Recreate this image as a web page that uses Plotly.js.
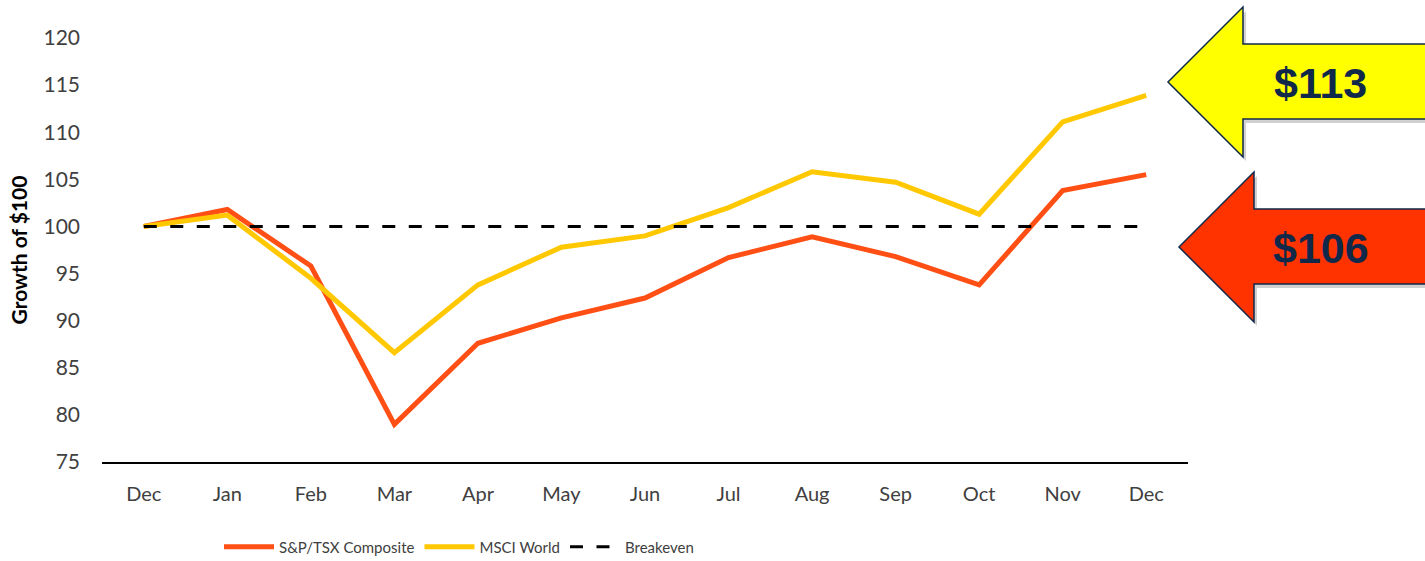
<!DOCTYPE html>
<html>
<head>
<meta charset="utf-8">
<script src="https://cdn.plot.ly/plotly-3.0.1.min.js"></script>
<style>html,body{margin:0;padding:0;background:#fff;}#chart{width:1425px;height:561px;}</style>
</head>
<body>
<div id="chart"></div>
<script>
const months = ["Dec","Jan","Feb","Mar","Apr","May","Jun","Jul","Aug","Sep","Oct","Nov","Dec"];
const tsx = [100, 101.8, 95.8, 79.0, 87.6, 90.3, 92.4, 96.7, 98.9, 96.8, 93.8, 103.8, 105.5];
const msci = [100, 101.2, 94.5, 86.6, 93.8, 97.8, 99.0, 102.0, 105.8, 104.7, 101.3, 111.1, 113.9];
const breakeven = [100, 100, 100, 100, 100, 100, 100, 100, 100, 100, 100, 100, 100];
const arrowLabels = ["$113", "$106"];

const idx = months.map((m, i) => i);

const W = 1425, H = 561;
const L = 102, R = 237, T = 38, B = 99;
const PW = W - L - R, PH = H - T - B;
const px = x => (x - L) / PW;
const py = y => (H - B - y) / PH;

function arrowPath(tipX, tipY, headX, headTop, headBot, shaftTop, shaftBot, rightX) {
  const pts = [[tipX, tipY],[headX, headTop],[headX, shaftTop],[rightX, shaftTop],[rightX, shaftBot],[headX, shaftBot],[headX, headBot]];
  return 'M' + pts.map(p => px(p[0]).toFixed(5) + ',' + py(p[1]).toFixed(5)).join(' L') + ' Z';
}
function shadowPath(dx, dy, ...a) {
  return arrowPath(a[0]+dx, a[1]+dy, a[2]+dx, a[3]+dy, a[4]+dy, a[5]+dy, a[6]+dy, a[7]+dx);
}

const yArrow = [1168, 82, 1243, 7, 157, 44, 119, 1430];
const rArrow = [1179, 247, 1254, 172, 322, 209, 284, 1430];

const shapes = [
  {type:'path', xref:'paper', yref:'paper', path: shadowPath(3, 4, ...yArrow), fillcolor:'rgba(0,0,0,0.18)', line:{width:0}, layer:'above'},
  {type:'path', xref:'paper', yref:'paper', path: arrowPath(...yArrow), fillcolor:'#FFFF00', line:{color:'#10284A', width:1.5}, layer:'above'},
  {type:'path', xref:'paper', yref:'paper', path: shadowPath(3, 4, ...rArrow), fillcolor:'rgba(0,0,0,0.18)', line:{width:0}, layer:'above'},
  {type:'path', xref:'paper', yref:'paper', path: arrowPath(...rArrow), fillcolor:'#FF3300', line:{color:'#10284A', width:1.5}, layer:'above'}
];

const annotations = [
  {xref:'paper', yref:'paper', x: px(1320), y: py(83), text: arrowLabels[0], showarrow:false,
   font:{family:'Liberation Sans, Arial, sans-serif', size:43, color:'#10284A', weight:'bold'}, xanchor:'center', yanchor:'middle'},
  {xref:'paper', yref:'paper', x: px(1321), y: py(248), text: arrowLabels[1], showarrow:false,
   font:{family:'Liberation Sans, Arial, sans-serif', size:43, color:'#10284A', weight:'bold'}, xanchor:'center', yanchor:'middle'}
];

const traces = [
  {x: idx, y: tsx, name:'S&P/TSX Composite', type:'scatter', mode:'lines', line:{color:'#FF4F14', width:5}},
  {x: idx, y: msci, name:'MSCI World', type:'scatter', mode:'lines', line:{color:'#FFC800', width:5}},
  {x: idx, y: breakeven, name:'Breakeven', type:'scatter', mode:'lines', line:{color:'#000000', width:3, dash:'13px,13.5px'}}
];

const layout = {
  width: W, height: H,
  margin: {l: L, r: R, t: T, b: B, pad: 0},
  paper_bgcolor: '#fff', plot_bgcolor: '#fff',
  font: {family: 'Lato, "Open Sans", sans-serif', color: '#404040'},
  showlegend: true,
  legend: {orientation:'h', xref:'container', x: 219/W, xanchor:'left', yref:'container', y: (H-547)/H, yanchor:'middle',
           font:{family:'Lato, sans-serif', size:15, color:'#404040'}, itemwidth:50, traceorder:'normal', bgcolor:'rgba(0,0,0,0)'},
  xaxis: {range:[-0.5, 12.5], tickvals: idx, ticktext: months, showgrid:false, zeroline:false,
          showline:true, linecolor:'#000', linewidth:2, ticks:'', ticklabelstandoff:13,
          tickfont:{size:20, color:'#404040'}, fixedrange:true},
  yaxis: {range:[75, 120], dtick:5, tick0:75, showgrid:false, zeroline:false, showline:false,
          ticks:'', ticklabelstandoff:21, tickfont:{size:21, color:'#404040'},
          title:{text:'Growth of $100', font:{size:21, color:'#000', weight:'bold'}, standoff:10}, fixedrange:true},
  shapes: shapes,
  annotations: annotations
};

Plotly.newPlot('chart', traces, layout, {displayModeBar:false, staticPlot:true});
</script>
</body>
</html>
